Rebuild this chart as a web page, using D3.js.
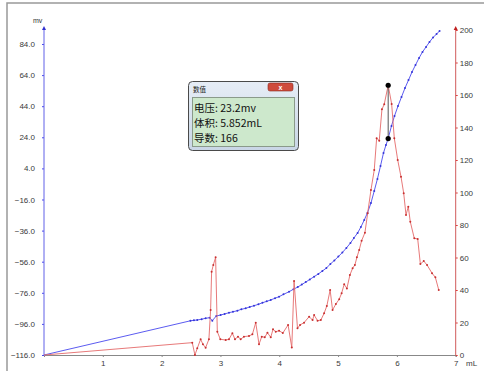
<!DOCTYPE html>
<html>
<head>
    <meta charset='utf-8'>
    <script src='https://d3js.org/d3.v7.min.js'></script>
    <title>titration</title>
</head>
<body style="margin:0;background:#fff">
<style>
    body { font-family: "Liberation Sans", Arial, sans-serif; }
    .tick text { font-size: 8px; fill: #3a3a3a; }
</style>
<div id='chart'></div>
<script>
    // volume (mL) and potential (mv) - blue curve, left axis
    var volBlue = [0, 2.49, 2.549, 2.606, 2.680, 2.748, 2.816, 2.862, 2.930, 3.003, 3.071, 3.145, 3.213, 3.288,
        3.356, 3.429, 3.497, 3.571, 3.646, 3.714, 3.787, 3.855, 3.928, 3.997, 4.072, 4.167, 4.242,
        4.315, 4.383, 4.451, 4.519, 4.593, 4.664, 4.733, 4.801, 4.869, 4.937, 5.005, 5.073, 5.141,
        5.210, 5.269, 5.332, 5.388, 5.445, 5.499, 5.559, 5.615, 5.669, 5.721, 5.772, 5.814, 5.852,
        5.908, 5.959, 6.019, 6.078, 6.138, 6.198, 6.257, 6.317, 6.377, 6.436, 6.496, 6.555, 6.615,
        6.675, 6.726];
    var mv = [-116, -94.0, -93.7, -93.5, -93.0, -92.4, -92.0, -93.9, -90.9, -90.3, -89.6, -88.8, -88.2, -87.5,
        -86.6, -86.0, -85.1, -84.3, -83.4, -82.4, -81.5, -80.6, -79.5, -78.5, -77.0, -75.3, -73.7,
        -72.3, -70.7, -69.1, -67.4, -65.6, -63.9, -62.0, -60.1, -57.5, -55.2, -52.7, -50.1, -47.2,
        -44.0, -40.8, -37.5, -33.7, -29.2, -24.7, -18.3, -10.5, -2.8, 5.5, 13.9, 19.0, 23.2,
        31.3, 37.7, 44.1, 49.9, 55.7, 60.8, 66.0, 70.5, 75.0, 78.9, 82.1, 85.3, 88.2,
        90.4, 92.4];

    // volume (mL) and derivative - red curve, right axis
    var volRed = [0, 2.521, 2.566, 2.606, 2.663, 2.702, 2.748, 2.804, 2.833, 2.850, 2.879, 2.918, 2.947, 2.998,
        3.089, 3.145, 3.203, 3.247, 3.298, 3.344, 3.400, 3.486, 3.543, 3.600, 3.656, 3.702, 3.753,
        3.799, 3.855, 3.894, 3.940, 3.997, 4.060, 4.150, 4.213, 4.252, 4.310, 4.354, 4.422, 4.508,
        4.566, 4.593, 4.651, 4.707, 4.763, 4.809, 4.865, 4.906, 4.963, 5.019, 5.060, 5.104, 5.150,
        5.201, 5.247, 5.286, 5.320, 5.359, 5.400, 5.457, 5.503, 5.559, 5.615, 5.656, 5.700, 5.746,
        5.785, 5.852, 5.911, 5.956, 6.014, 6.070, 6.116, 6.155, 6.194, 6.228, 6.296, 6.354, 6.399,
        6.457, 6.513, 6.598, 6.654, 6.712];
    var deriv = [0, 7.6, 0, 4.1, 9.7, 6.6, 4.5, 9.7, 27.7, 51.3, 55.4, 60.1, 14.3, 9.7,
        9.2, 9.7, 13.4, 9.7, 11.3, 9.7, 11.3, 11.7, 12.7, 19.9, 6.6, 11.3, 10.9,
        13.7, 10.9, 15.8, 14.3, 15.0, 13.5, 18.5, 4.6, 45.5, 16.4, 18.5, 19.9, 23.6,
        21.5, 24.6, 21.1, 21.5, 25.7, 30.2, 40.0, 27.7, 31.4, 34.3, 38.0, 43.5, 41.0,
        49.2, 53.4, 55.4, 60.1, 64.6, 70.3, 75.3, 87.2, 101.5, 113.8, 133.4, 131.9, 151.2,
        154.3, 166, 154.5, 133.4, 120.0, 109.7, 99.5, 86.2, 91.3, 82.0, 71.8, 71.4, 56.0,
        57.8, 55.4, 50.3, 47.8, 40.0];

    var xTicks = [1, 2, 3, 4, 5, 6, 7];
    var leftTicks = [-116, -96, -76, -56, -36, -16, 4, 24, 44, 64, 84];
    var rightTicks = [0, 20, 40, 60, 80, 100, 120, 140, 160, 180, 200];

    var cursorVol = 5.852, cursorMv = 23.2, cursorDeriv = 166;
    var infoLines = ['电压: 23.2mv', '体积: 5.852mL', '导数: 166'];

    var blue = '#4848ee', red = '#dc3c3c';

    var svg = d3.select('#chart').append('svg')
        .attr('width', 484)
        .attr('height', 371);

    // outer frame
    svg.append('rect')
        .attr('x', 7).attr('y', 3)
        .attr('width', 520).attr('height', 420)
        .attr('fill', 'none').attr('stroke', '#999').attr('stroke-width', 1.5);

    const x = d3.scaleLinear().domain([0, 7]).range([44, 455.7]);
    const yL = d3.scaleLinear().domain([-116, 93]).range([355, 30]);
    const yR = d3.scaleLinear().domain([0, 200]).range([355, 30]);

    // x axis
    var xg = svg.append('g').attr('transform', 'translate(0,355)')
        .call(d3.axisBottom(x).tickValues(xTicks).tickSize(2).tickPadding(3).tickFormat(d3.format('d')));
    xg.select('.domain').attr('stroke', '#888');
    xg.selectAll('.tick line').attr('stroke', '#888');
    svg.append('text').attr('x', 466).attr('y', 366).attr('font-size', 8).attr('fill', '#3a3a3a').text('mL');

    // left axis
    var lg = svg.append('g').attr('transform', 'translate(44,0)')
        .call(d3.axisLeft(yL).tickValues(leftTicks).tickSize(2).tickPadding(7).tickFormat(d3.format('.1f')));
    lg.select('.domain').remove();
    lg.selectAll('.tick line').attr('stroke', blue);
    svg.append('line').attr('x1', 44).attr('x2', 44).attr('y1', 355).attr('y2', 28)
        .attr('stroke', '#6060e8').attr('stroke-width', 1);
    svg.append('path').attr('d', 'M44,26 L42,30 L46,30 Z').attr('fill', '#3030d0');
    svg.append('text').attr('x', 33).attr('y', 23).attr('font-size', 7).attr('fill', '#333').text('mv');

    // right axis
    var rg = svg.append('g').attr('transform', 'translate(455.7,0)')
        .call(d3.axisRight(yR).tickValues(rightTicks).tickSize(2).tickPadding(2));
    rg.select('.domain').remove();
    rg.selectAll('.tick line').attr('stroke', red);
    svg.append('line').attr('x1', 455.7).attr('x2', 455.7).attr('y1', 355).attr('y2', 28)
        .attr('stroke', '#d05a5a').attr('stroke-width', 1);
    svg.append('path').attr('d', 'M455.7,26 L453.7,30 L457.7,30 Z').attr('fill', '#c02020');

    // curves
    var blueData = volBlue.map(function (v, i) { return [v, mv[i]]; });
    var redData = volRed.map(function (v, i) { return [v, deriv[i]]; });

    svg.append('path').datum(blueData)
        .attr('fill', 'none').attr('stroke', blue).attr('stroke-width', 0.9)
        .attr('d', d3.line().x(d => x(d[0])).y(d => yL(d[1])));
    svg.append('g').selectAll('circle').data(blueData.slice(1)).enter().append('circle')
        .attr('cx', d => x(d[0])).attr('cy', d => yL(d[1])).attr('r', 1).attr('fill', '#3535d8');

    svg.append('path').datum(redData)
        .attr('fill', 'none').attr('stroke', '#e46a6a').attr('stroke-width', 0.9)
        .attr('d', d3.line().x(d => x(d[0])).y(d => yR(d[1])));
    svg.append('g').selectAll('circle').data(redData.slice(1)).enter().append('circle')
        .attr('cx', d => x(d[0])).attr('cy', d => yR(d[1])).attr('r', 1).attr('fill', '#c83030');

    // cursor markers
    svg.append('line')
        .attr('x1', x(cursorVol)).attr('y1', yR(cursorDeriv))
        .attr('x2', x(cursorVol)).attr('y2', yL(cursorMv))
        .attr('stroke', '#555').attr('stroke-width', 1);
    svg.append('circle').attr('cx', x(cursorVol)).attr('cy', yR(cursorDeriv)).attr('r', 2.6).attr('fill', '#000');
    svg.append('circle').attr('cx', x(cursorVol)).attr('cy', yL(cursorMv)).attr('r', 2.6).attr('fill', '#000');

    // info window
    var win = svg.append('g').attr('transform', 'translate(188,81)');
    var grad = svg.append('defs').append('linearGradient').attr('id', 'wg')
        .attr('x1', 0).attr('y1', 0).attr('x2', 0).attr('y2', 1);
    grad.append('stop').attr('offset', '0%').attr('stop-color', '#e6edf6');
    grad.append('stop').attr('offset', '100%').attr('stop-color', '#c9d6e6');
    win.append('rect').attr('x', 0.5).attr('y', 0.5).attr('width', 110).attr('height', 69).attr('rx', 4)
        .attr('fill', 'url(#wg)').attr('stroke', '#4a4a4a');
    win.append('text').attr('x', 5).attr('y', 11).attr('font-size', 6.5).attr('fill', '#222')
        .attr('font-family', 'Noto Sans CJK SC').text('数值');
    win.append('rect').attr('x', 80).attr('y', 2).attr('width', 25).attr('height', 8).attr('rx', 2)
        .attr('fill', '#cf4b3c').attr('stroke', '#8a2a20').attr('stroke-width', 0.6);
    win.append('text').attr('x', 92.5).attr('y', 8.6).attr('text-anchor', 'middle').attr('font-size', 7)
        .attr('fill', '#fff').attr('font-weight', 'bold').text('x');
    win.append('rect').attr('x', 4.5).attr('y', 16.5).attr('width', 102).attr('height', 49)
        .attr('fill', '#cde8cc').attr('stroke', '#8a9a8a');
    win.selectAll('text.info').data(infoLines).enter().append('text')
        .attr('class', 'info')
        .attr('x', 6).attr('y', (d, i) => 31 + i * 15)
        .attr('font-size', 10.5).attr('fill', '#111')
        .attr('font-family', 'Noto Sans CJK SC')
        .text(d => d);
</script>
</body>
</html>
